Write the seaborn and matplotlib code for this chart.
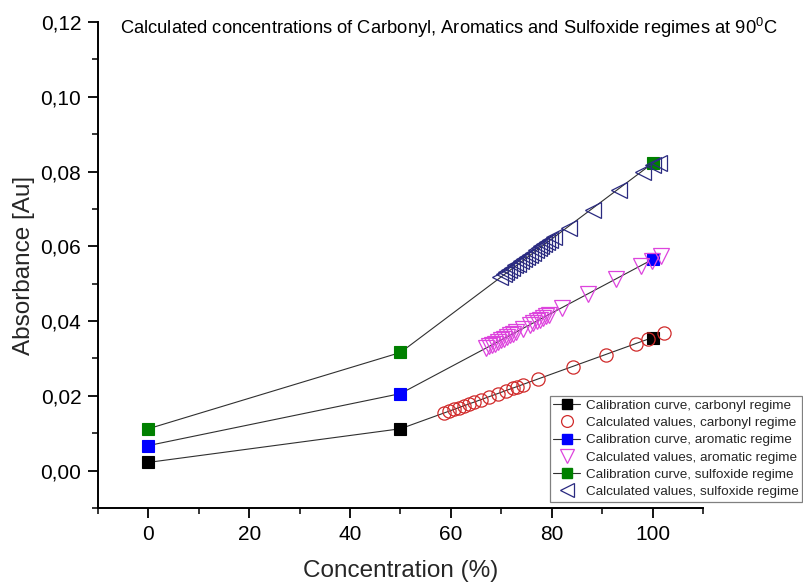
import matplotlib
matplotlib.use("Agg")
import matplotlib.pyplot as plt
from matplotlib.lines import Line2D
import seaborn as sns
import numpy as np
import pandas as pd

# ---------------- data ----------------
cal_x = [0, 50, 100]
cal_carbonyl = [0.0022, 0.0112, 0.0356]
cal_aromatic = [0.0067, 0.0206, 0.0565]
cal_sulfoxide = [0.0112, 0.0316, 0.0822]

calc_carbonyl_x = [58.6, 59.6, 60.6, 61.6, 62.6, 63.6, 64.6, 65.9, 67.6, 69.3,
                   70.9, 72.3, 73.2, 74.2, 77.2, 84.2, 90.8, 96.8, 99.1, 102.3]
calc_carbonyl_y = [0.0154, 0.0159, 0.0164, 0.0168, 0.0173, 0.0178, 0.0183, 0.0189,
                   0.0198, 0.0206, 0.0214, 0.0220, 0.0225, 0.0230, 0.0244, 0.0278,
                   0.0310, 0.0340, 0.0351, 0.0367]

calc_aromatic_x = [66.9, 67.5, 68.1, 68.7, 69.3, 69.9, 70.5, 71.1, 71.7, 72.3, 72.9,
                   74.3, 75.6, 76.3, 77.0, 77.6, 78.2, 78.8, 79.4,
                   82.1, 87.2, 92.8, 97.8, 99.8, 101.7]
calc_aromatic_y = [0.0327, 0.0332, 0.0336, 0.0340, 0.0345, 0.0349, 0.0353, 0.0358,
                   0.0362, 0.0366, 0.0370, 0.0380, 0.0390, 0.0395, 0.0400, 0.0404,
                   0.0408, 0.0413, 0.0417, 0.0435, 0.0472, 0.0512, 0.0548, 0.0562,
                   0.0575]

calc_sulfoxide_x = [69.8, 70.5, 71.0, 71.6, 72.2, 72.8, 73.3, 73.9, 74.5, 75.1,
                    75.6, 76.2, 76.8, 77.4, 77.9, 78.5, 79.1, 79.7, 80.4,
                    83.5, 88.2, 93.4, 98.1, 100.1, 101.3]
calc_sulfoxide_y = [0.0518, 0.0526, 0.0530, 0.0537, 0.0543, 0.0549, 0.0554, 0.0560,
                    0.0566, 0.0572, 0.0577, 0.0583, 0.0589, 0.0595, 0.0600, 0.0606,
                    0.0612, 0.0618, 0.0625, 0.0648, 0.0697, 0.0750, 0.0799, 0.0817,
                    0.0823]

x_ticks = [0, 20, 40, 60, 80, 100]
x_labels = ["0", "20", "40", "60", "80", "100"]
y_ticks = [0.00, 0.02, 0.04, 0.06, 0.08, 0.10, 0.12]
y_labels = ["0,00", "0,02", "0,04", "0,06", "0,08", "0,10", "0,12"]

labels = ["Calibration curve, carbonyl regime",
          "Calculated values, carbonyl regime",
          "Calibration curve, aromatic regime",
          "Calculated values, aromatic regime",
          "Calibration curve, sulfoxide regime",
          "Calculated values, sulfoxide regime"]
title = "Calculated concentrations of Carbonyl, Aromatics and Sulfoxide regimes at 90$^{\\mathrm{0}}$C"

# ---------------- style ----------------
sns.set_theme(style="ticks")
plt.rcParams["font.family"] = ["Liberation Sans", "DejaVu Sans"]
plt.rcParams["mathtext.fontset"] = "custom"
plt.rcParams["mathtext.rm"] = "Liberation Sans"

fig = plt.figure(figsize=(8.04, 5.84), dpi=100)
ax = fig.add_axes([98 / 804, 1 - 508 / 584, 605 / 804, 486 / 584])

cal_colors = ["#000000", "#0000ff", "#008000"]
calc_colors = ["#d02a2a", "#dd44dd", "#2a2a80"]
calc_markers = ["o", "v", "<"]
calc_sizes = [9.5, 11, 11]
line_col = "#303030"

cal_sets = [cal_carbonyl, cal_aromatic, cal_sulfoxide]
calc_sets = [(calc_carbonyl_x, calc_carbonyl_y),
             (calc_aromatic_x, calc_aromatic_y),
             (calc_sulfoxide_x, calc_sulfoxide_y)]

handles = []
for i in range(3):
    sns.lineplot(x=cal_x, y=cal_sets[i], ax=ax, color=line_col, linewidth=0.8,
                 marker="s", markersize=8, markerfacecolor=cal_colors[i],
                 markeredgecolor=cal_colors[i], markeredgewidth=0.8,
                 estimator=None, sort=False, legend=False, zorder=2)
    cx, cy = calc_sets[i]
    sns.lineplot(x=cx, y=cy, ax=ax, linestyle="none", marker=calc_markers[i],
                 markersize=calc_sizes[i], markerfacecolor="none",
                 markeredgecolor=calc_colors[i], markeredgewidth=0.9,
                 color=calc_colors[i], estimator=None, sort=False,
                 legend=False, zorder=3)
    handles.append(Line2D([], [], color=line_col, linewidth=0.8, marker="s",
                          markersize=7, markerfacecolor=cal_colors[i],
                          markeredgecolor=cal_colors[i]))
    handles.append(Line2D([], [], linestyle="none", marker=calc_markers[i],
                          markersize=calc_sizes[i] - 1, markerfacecolor="none",
                          markeredgecolor=calc_colors[i], markeredgewidth=0.9))

ax.set_xlim(-10, 110)
ax.set_ylim(-0.01, 0.12)
ax.set_xticks(x_ticks)
ax.set_xticklabels(x_labels)
ax.set_yticks(y_ticks)
ax.set_yticklabels(y_labels)
ax.set_xticks([-10, 10, 30, 50, 70, 90, 110], minor=True)
ax.set_yticks([-0.01, 0.01, 0.03, 0.05, 0.07, 0.09, 0.11], minor=True)
ax.tick_params(axis="both", which="major", direction="out", length=7, width=1.3,
               labelsize=15, colors="black", pad=5)
ax.tick_params(axis="both", which="minor", direction="out", length=4, width=1.3)
for s in ["top", "right"]:
    ax.spines[s].set_visible(False)
for s in ["left", "bottom"]:
    ax.spines[s].set_linewidth(1.4)
    ax.spines[s].set_color("black")

ax.set_xlabel("Concentration (%)", fontsize=17.5, labelpad=12)
ax.set_ylabel("Absorbance [Au]", fontsize=17.5, labelpad=4)

ax.text(0.036, 0.988, title, transform=ax.transAxes, fontsize=13.2, va="center",
        ha="left", color="black")

leg = fig.legend(handles, labels, loc="upper right",
                 bbox_to_anchor=(0.9978, 1 - 396 / 584),
                 bbox_transform=fig.transFigure, fontsize=9.7, frameon=True,
                 fancybox=False, edgecolor="#808080", framealpha=1,
                 labelspacing=0.36, handlelength=2.0, handletextpad=0.45,
                 borderpad=0.25, borderaxespad=0, numpoints=1)
leg.get_frame().set_linewidth(0.9)

fig.savefig("out.png", dpi=100)
